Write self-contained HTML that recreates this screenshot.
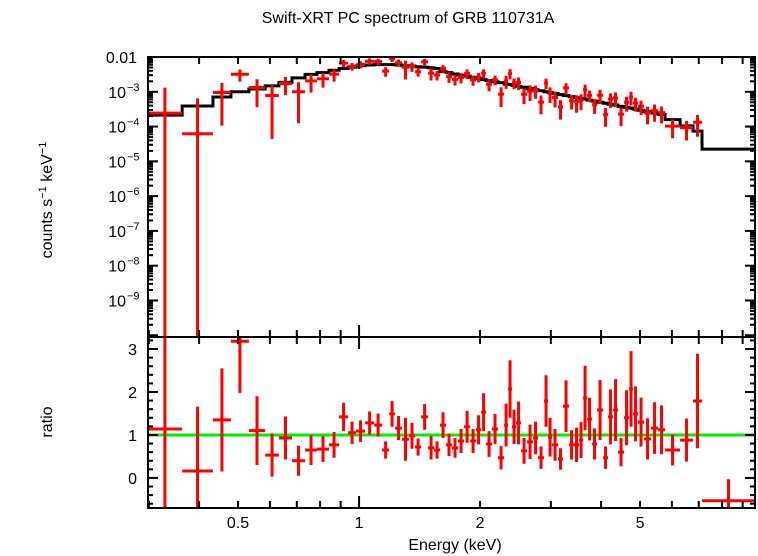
<!DOCTYPE html>
<html><head><meta charset="utf-8">
<style>
html,body{margin:0;padding:0;background:#fff;width:758px;height:556px;overflow:hidden;}
svg{display:block;font-family:"Liberation Sans",sans-serif;}
</style></head>
<body>
<svg id="chart" width="758" height="556" viewBox="0 0 758 556" xmlns="http://www.w3.org/2000/svg">
<rect width="758" height="556" fill="#fff"/>
<text x="408" y="23" font-size="16" text-anchor="middle">Swift-XRT PC spectrum of GRB 110731A</text>
<text transform="translate(52,200) rotate(-90)" font-size="16" text-anchor="middle">counts s<tspan font-size="11" dy="-6">−1</tspan><tspan dy="6"> keV</tspan><tspan font-size="11" dy="-6">−1</tspan></text>
<text transform="translate(52,422) rotate(-90)" font-size="16" text-anchor="middle">ratio</text>
<text x="455" y="550" font-size="16" text-anchor="middle">Energy (keV)</text>
<g id="g"></g>
</svg>
<script>
// Bin energy edges (keV)
const binEdges = [0.298,0.363,0.433,0.480,0.532,0.584,0.632,0.681,0.734,0.786,0.842,0.892,
0.939,0.983,1.035,1.090,1.141,1.188,1.229,1.279,1.331,1.378,1.427,1.485,1.537,1.590,
1.646,1.703,1.763,1.825,1.889,1.954,2.012,2.070,2.142,2.217,2.295,2.348,2.402,2.458,2.529,
2.618,2.709,2.788,2.885,2.952,3.021,3.126,3.217,3.330,3.426,3.526,3.608,3.692,3.799,3.909,
4.046,4.163,4.283,4.409,4.563,4.695,4.804,4.943,5.117,5.326,5.544,5.770,6.289,6.773,7.132,9.66];
// log10 model (counts/s/keV) per bin
const modelLog = [-3.67,-3.41,-3.15,-3.0,-2.92,-2.83,-2.73,-2.6,-2.5,-2.45,-2.38,
-2.33,-2.29,-2.25,-2.23,-2.22,-2.22,-2.22,-2.23,-2.25,-2.26,-2.28,-2.29,-2.31,-2.33,
-2.42,-2.45,-2.49,-2.52,-2.55,-2.59,-2.62,-2.65,-2.68,-2.71,-2.74,-2.78,-2.79,-2.82,-2.84,
-2.87,-2.91,-2.94,-2.97,-3.0,-3.02,-3.05,-3.08,-3.11,-3.14,-3.17,-3.19,-3.21,-3.24,-3.27,
-3.3,-3.33,-3.36,-3.38,-3.42,-3.45,-3.47,-3.5,-3.53,-3.57,-3.61,-3.65,-3.8,-3.98,-4.13,-4.65];
// data / model ratio per bin
const ratioVals = [1.14,0.16,1.35,3.18,1.1,0.53,0.93,0.4,0.65,0.67,0.77,
1.42,1.05,1.09,1.28,1.23,0.65,1.49,1.16,0.9,0.98,0.72,1.42,0.7,0.65,
1.23,0.77,0.7,0.86,1.19,0.86,1.12,1.53,0.79,1.14,0.47,1.23,2.07,1.19,1.28,
0.63,0.84,0.93,0.47,1.79,0.95,0.77,0.44,1.67,0.77,0.77,0.88,1.86,1.37,0.79,
1.58,0.47,1.42,1.58,0.6,1.4,2.07,1.49,1.3,0.91,1.16,1.12,0.65,0.88,1.79,-0.53];
const ratioErr = [5,1.5,1.2,1.2,0.8,0.5,0.5,0.35,0.35,0.3,0.3,
0.33,0.26,0.25,0.27,0.27,0.2,0.3,0.28,0.5,0.3,0.2,0.3,0.27,0.2,
0.3,0.26,0.23,0.28,0.37,0.28,0.34,0.44,0.3,0.35,0.27,0.5,0.67,0.4,0.5,
0.3,0.4,0.38,0.26,0.6,0.45,0.37,0.25,0.6,0.34,0.4,0.42,0.75,0.5,0.36,
0.7,0.26,0.64,0.72,0.33,0.64,0.88,0.64,0.57,0.48,0.6,0.57,0.36,0.5,1.1,0.5];
const xTickLabels = ["0.5","1","2","5"];
const xTickVals = [0.5,1,2,5];
const yTopLabels = ["0.01","10","10","10","10","10","10","10"];
const yTopExp = [null,"−3","−4","−5","−6","−7","−8","−9"];
const yTopVals = [-2,-3,-4,-5,-6,-7,-8,-9];
const yBotLabels = ["0","1","2","3"];

const L=148,R=755,T=57,M=337,B=508;
const xMin=Math.log10(0.2985), xMax=Math.log10(9.66);
const X=e=>L+(Math.log10(e)-xMin)/(xMax-xMin)*(R-L);
const yTopMax=-2, yTopMin=-10.05;
const clamp=(v,a,b)=>Math.max(a,Math.min(b,v));
const YT=lg=>clamp(T+(yTopMax-lg)/(yTopMax-yTopMin)*(M-T),T-2,M+2);
const rMax=3.28, rMin=-0.7;
const YB=r=>clamp(M+(rMax-r)/(rMax-rMin)*(B-M),M-2,B+2);
const NS="http://www.w3.org/2000/svg";
const g=document.getElementById('g');
function mk(tag,attrs,parent){const el=document.createElementNS(NS,tag);for(const k in attrs)el.setAttribute(k,attrs[k]);(parent||g).appendChild(el);return el;}
const clipT=mk('clipPath',{id:'ct'});mk('rect',{x:L,y:T,width:R-L,height:M-T},clipT);
const clipB=mk('clipPath',{id:'cb'});mk('rect',{x:L,y:M,width:R-L,height:B-M},clipB);
const gt=mk('g',{'clip-path':'url(#ct)'});


const gb=mk('g',{'clip-path':'url(#cb)'});



let d='';
for(let i=0;i<modelLog.length;i++){const x0=X(binEdges[i]),x1=X(binEdges[i+1]),y=YT(modelLog[i]);d+=(i===0?'M':'L')+x0+' '+y+'L'+x1+' '+y;}
const mp=mk('path',{d:d,fill:'none',stroke:'#000','stroke-width':3},gt);



const gl=mk('line',{x1:L,x2:R,y1:YB(1),y2:YB(1),stroke:'#00ee00','stroke-width':3},gb);



for(let i=0;i<ratioVals.length;i++){
  const e0=binEdges[i],e1=binEdges[i+1],ec=Math.sqrt(e0*e1);
  const x0=X(e0),x1=Math.min(X(e1),R),xc=X(ec);
  const r=ratioVals[i],re=ratioErr[i],m=modelLog[i];
  const pb=mk('path',{d:`M${x0} ${YB(r)}H${x1}M${xc} ${YB(r+re)}V${YB(r-re)}`,stroke:'red','stroke-width':3,fill:'none'},gb);
  
  
  if(i===ratioVals.length-1) continue;
  const rate=Math.pow(10,m)*r, hi=Math.pow(10,m)*(r+re), lo=Math.pow(10,m)*(r-re);
  const yc=rate>0?YT(Math.log10(rate)):M+2;
  const yh=YT(Math.log10(hi)), yl=lo>0?YT(Math.log10(lo)):M+2;
  const pt=mk('path',{d:`M${x0} ${yc}H${x1}M${xc} ${yh}V${yl}`,stroke:'red','stroke-width':3,fill:'none'},gt);
  
  
}

const ax=mk('g',{stroke:'#000','stroke-width':2,fill:'none'});


mk('rect',{x:L,y:T,width:R-L,height:B-T},ax);
mk('line',{x1:L,x2:R,y1:M,y2:M},ax);
const minors=[0.3,0.4,0.5,0.6,0.7,0.8,0.9,1,2,3,4,5,6,7,8,9];
minors.forEach(v=>{const x=X(v);const big=(v===1)?12:7;
  [[T,1],[M,-1],[M,1],[B,-1]].forEach(([y,s])=>mk('line',{x1:x,x2:x,y1:y,y2:y+s*big},ax));});
for(let dcd=-3;dcd>=-10;dcd--){for(let k=1;k<=9;k++){const lg=dcd+Math.log10(k);if(lg>yTopMax||lg<yTopMin)continue;const len=k===1?10:5;const y=YT(lg);
  mk('line',{x1:L,x2:L+len,y1:y,y2:y},ax);mk('line',{x1:R,x2:R-len,y1:y,y2:y},ax);}}
for(let r=-0.6;r<=3.21;r+=0.2){const rr=Math.round(r*10)/10;const major=Math.abs(rr-Math.round(rr))<1e-6;const len=major?10:5;const y=YB(rr);
  mk('line',{x1:L,x2:L+len,y1:y,y2:y},ax);mk('line',{x1:R,x2:R-len,y1:y,y2:y},ax);}

xTickLabels.forEach((t,i)=>{const el=mk('text',{x:X(xTickVals[i]),y:528,'font-size':16,'text-anchor':'middle'});el.textContent=t;
  
  });
yTopLabels.forEach((t,i)=>{const y=YT(yTopVals[i])+6;const el=mk('text',{x:yTopExp[i]?126:137,y:y,'font-size':16,'text-anchor':'end'});el.textContent=t;
  
  
  if(yTopExp[i]){const s=mk('text',{x:127,y:y-7,'font-size':11});s.textContent=yTopExp[i];
  
  }});
yBotLabels.forEach((t,i)=>{const el=mk('text',{x:137,y:YB(i)+6,'font-size':16,'text-anchor':'end'});el.textContent=t;
  
  });
</script>
</body></html>
